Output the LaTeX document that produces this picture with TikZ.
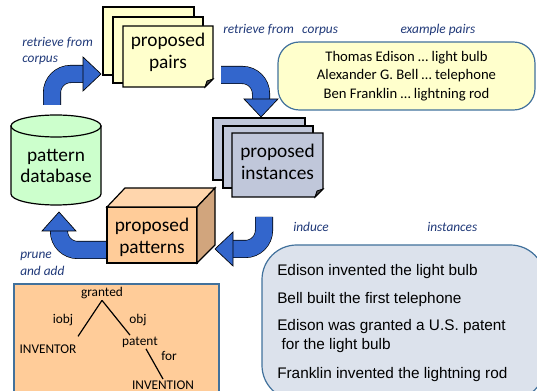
\documentclass[tikz,border=0pt]{standalone}
\usepackage{fontspec}
\setmainfont{Carlito}
\newfontfamily\arialfont{Liberation Sans}

\definecolor{flowblue}{RGB}{51,102,204}
\definecolor{labelblue}{RGB}{31,56,120}
\definecolor{pairfill}{RGB}{255,255,204}
\definecolor{instfill}{RGB}{192,199,218}
\definecolor{dbfill}{RGB}{204,255,204}
\definecolor{patfill}{RGB}{255,204,153}
\definecolor{pattop}{RGB}{255,214,173}
\definecolor{patside}{RGB}{209,165,125}
\definecolor{boxedge}{RGB}{65,113,156}
\definecolor{sentfill}{RGB}{220,226,236}

\begin{document}
\begin{tikzpicture}[x=0.75pt,y=0.75pt,
  flow/.style={draw=black,line width=0.5pt,double=flowblue,double distance=12.5pt,rounded corners=14pt},
  head/.style={fill=flowblue,draw=black,line width=0.5pt},
  page/.style={draw=black,line width=0.9pt},
  big/.style={font=\fontsize{14.5}{16}\selectfont,align=center,inner sep=0pt},
  note/.style={font=\fontsize{10}{12.5}\selectfont\itshape,text=labelblue,align=left,inner sep=0pt},
  tree/.style={font=\fontsize{10}{12}\selectfont,inner sep=1pt},
  sent/.style={font=\arialfont\fontsize{11.5}{14}\selectfont,anchor=west,inner sep=0pt,
    text height=8.5pt,text depth=2.5pt}]
\useasboundingbox (0,0) rectangle (537,-391);

% proposed pairs (stack of pages)
\filldraw[page,fill=pairfill] (103,-7) rectangle (194,-75);
\filldraw[page,fill=pairfill] (113,-17) rectangle (203,-83);
\filldraw[page,fill=pairfill] (123,-26) -- (213,-26) -- (213,-79) -- (205,-87) -- (123,-87) -- cycle;
\filldraw[page,fill=black!70,line width=0.6pt] (213,-79) -- (205,-87) -- (207,-81) -- cycle;
\node[big] (pairs) at (168,-52.5) {proposed\\pairs};

% proposed instances
\filldraw[page,fill=instfill] (213,-118) rectangle (305,-180);
\filldraw[page,fill=instfill] (223,-126) rectangle (313,-188);
\filldraw[page,fill=instfill] (232,-133) -- (323,-133) -- (323,-189) -- (315,-197) -- (232,-197) -- cycle;
\filldraw[page,fill=black!70,line width=0.6pt] (323,-189) -- (315,-197) -- (317,-191) -- cycle;
\node[big] (inst) at (277.5,-162) {proposed\\instances};

% pattern database
\filldraw[page,fill=dbfill] (11,-126) -- (11,-194) arc[start angle=180,end angle=360,x radius=45,y radius=11]
  -- (101,-126) -- cycle;
\filldraw[page,fill=dbfill] (56,-126) ellipse[x radius=45,y radius=11];
\node[big] (db) at (56,-166) {pattern\\database};

% arrows round the loop
\draw[flow] (52,-105) |- (85,-74);
\filldraw[head] (101,-74) -- ++(-18,17) -- ++(0,-34) -- cycle;
\draw[flow] (221,-75) -| (261,-100);
\filldraw[head] (261,-117) -- ++(-17,18) -- ++(34,0) -- cycle;
\draw[flow] (110,-250) -| (59,-229);
\filldraw[head] (59,-212) -- ++(-17,-19) -- ++(34,0) -- cycle;

% proposed patterns (cube)
\filldraw[page,fill=patfill] (107,-207) rectangle (197,-263);
\filldraw[page,fill=pattop] (107,-207) -- (125,-188) -- (215,-188) -- (197,-207) -- cycle;
\filldraw[page,fill=patside] (197,-207) -- (215,-188) -- (215,-245) -- (197,-263) -- cycle;
\node[big] (patterns) at (152,-237.5) {proposed\\patterns};

\draw[flow] (264,-217) |- (231,-249);
\filldraw[head] (215,-249) -- ++(18,17) -- ++(0,-34) -- cycle;

% labels
\node[note,anchor=west] (fromdb) at (22,-51) {retrieve from\\corpus};
\node[note,anchor=west] (frompairs) at (223,-30) {retrieve from\hspace{4pt} corpus};
\node[note] (exlabel) at (438,-30) {example pairs};
\node[note,anchor=west] (induce) at (293,-227) {induce};
\node[note,anchor=west] (instlabel) at (427,-227) {instances};
\node[note,anchor=west] (prune) at (20,-264) {prune\\and add};

% example pairs
\node[draw=boxedge,line width=0.9pt,fill=pairfill,rounded corners=16pt,
  minimum width=192.75pt,minimum height=51pt,align=center,inner sep=0pt,
  font=\fontsize{11}{14}\selectfont] (examples) at (406.5,-76)
  {Thomas Edison … light bulb\\Alexander G. Bell … telephone\\Ben Franklin … lightning rod};

% instances
\filldraw[draw=boxedge,line width=0.9pt,fill=sentfill,rounded corners=26pt] (262,-245) rectangle (545,-400);
\foreach \y/\t [count=\i] in {272/Edison invented the light bulb,
    300/Bell built the first telephone,
    327/Edison was granted a U.S. patent,
    346/\ for the light bulb,
    375/Franklin invented the lightning rod}
  \node[sent] (s\i) at (277,-\y) {\t};

% dependency pattern
\filldraw[draw=boxedge,line width=0.8pt,fill=patfill] (14,-284) rectangle (219,-400);
\node[tree] (granted) at (102,-293) {granted};
\node[tree] (inventor) at (48,-349) {INVENTOR};
\node[tree] (patent) at (140,-342) {patent};
\node[tree] (invention) at (163,-385) {INVENTION};
\node[tree] (iobj) at (63,-320) {iobj};
\node[tree] (obj) at (138,-320) {obj};
\node[tree] (for) at (169,-356) {for};
\draw[line width=0.9pt] (granted.south) -- ([yshift=5pt]inventor.north east);
\draw[line width=0.9pt] (granted.south) -- ([xshift=-7.5pt]patent.north);
\draw[line width=0.9pt] ([xshift=4.5pt]patent.south) -- (invention.north);
\end{tikzpicture}
\end{document}
